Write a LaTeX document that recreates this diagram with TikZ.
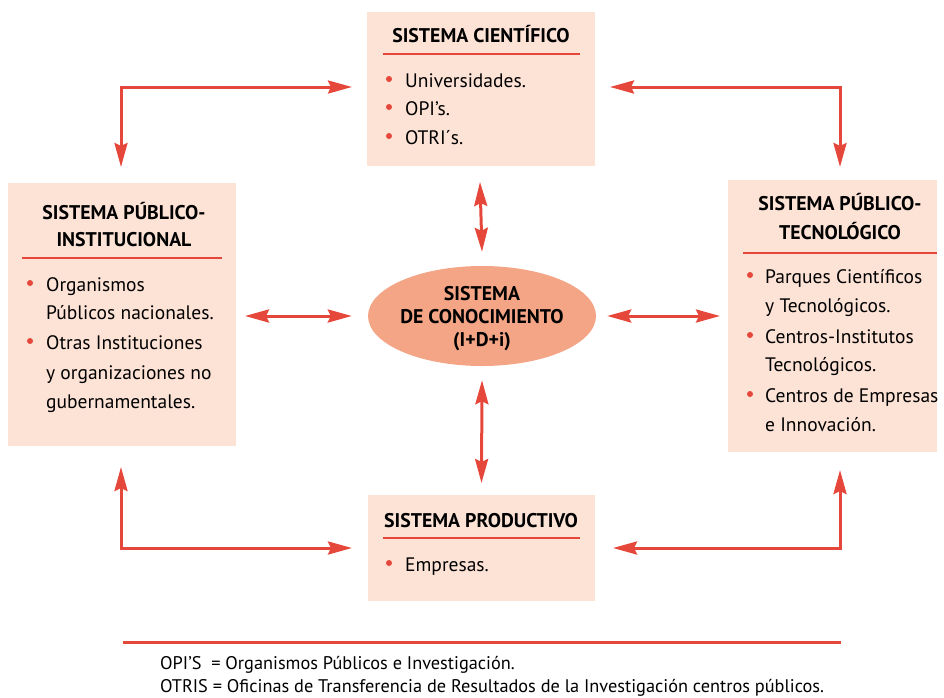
\documentclass[tikz,border=0pt]{standalone}
\usepackage{fontspec}
\setmainfont{PT Sans}
\usetikzlibrary{arrows.meta,shapes.geometric,calc}
\definecolor{boxfill}{HTML}{FDE2D6}
\definecolor{ellfill}{HTML}{F3A586}
\definecolor{redl}{HTML}{E5473A}
\begin{document}
\begin{tikzpicture}[x=1pt,y=-1pt,
  box/.style={fill=boxfill,draw=none,inner sep=0pt,outer sep=0pt},
  ttl/.style={font=\fontsize{19.8}{22}\selectfont\bfseries,inner sep=0pt,anchor=base},
  txt/.style={font=\fontsize{19.5}{22}\selectfont,inner sep=0pt,anchor=base west},
  foot/.style={font=\fontsize{18.3}{20}\selectfont,inner sep=0pt,anchor=base west},
  uline/.style={draw=redl,line width=2.5pt},
  bul/.style={circle,fill=redl,inner sep=0pt,minimum size=6pt},
  dbl/.style={draw=redl,line width=3pt,{Stealth[length=24pt,width=13pt,inset=3pt]}-{Stealth[length=24pt,width=13pt,inset=3pt]}},
]
\useasboundingbox (0,0) rectangle (944,697);
% boxes
\node[box,minimum width=228pt,minimum height=154pt] (cien) at (481,89) {};
\node[box,minimum width=228pt,minimum height=263pt] (inst) at (122,314.5) {};
\node[box,minimum width=209pt,minimum height=272pt] (tec) at (832.5,316) {};
\node[box,minimum width=227pt,minimum height=106pt] (prod) at (481.5,548) {};
\node[ellipse,fill=ellfill,inner sep=0pt,minimum width=228pt,minimum height=100pt] (ell) at (482,316) {};

% ellipse text
\node[ttl] (e1) at (482,300) {SISTEMA};
\node[ttl] (e2) at (482,323) {DE CONOCIMIENTO};
\node[ttl] (e3) at (482,346) {(I+D+i)};

% cientifico
\node[ttl] (ct) at (481,42) {SISTEMA CIENTÍFICO};
\draw[uline] (383,54) -- (580,54);
\node[bul] (cb1) at (389,79) {}; \node[txt] (c1) at (405,87) {Universidades.};
\node[bul] (cb2) at (389,107) {}; \node[txt] (c2) at (405,115) {OPI’s.};
\node[bul] (cb3) at (389,136) {}; \node[txt] (c3) at (405,144) {OTRI´s.};

% institucional
\node[ttl] (it1) at (124,219) {SISTEMA PÚBLICO-};
\node[ttl] (it2) at (124,246) {INSTITUCIONAL};
\draw[uline] (22,258) -- (222,258);
\node[bul] (ib1) at (30,283) {}; \node[txt] (i1) at (46,291) {Organismos};
\node[txt] (i2) at (46,319) {Públicos nacionales.};
\node[bul] (ib2) at (30,341) {}; \node[txt] (i3) at (46,349) {Otras Instituciones};
\node[txt] (i4) at (46,379) {y organizaciones no};
\node[txt] (i5) at (46,408) {gubernamentales.};

% tecnologico
\node[ttl] (tt1) at (840,210) {SISTEMA PÚBLICO-};
\node[ttl] (tt2) at (840,239) {TECNOLÓGICO};
\draw[uline] (743,253) -- (937,253);
\node[bul] (tb1) at (750,275) {}; \node[txt] (t1) at (765,283) {Parques Científicos};
\node[txt] (t2) at (765,312) {y Tecnológicos.};
\node[bul] (tb2) at (750,335) {}; \node[txt] (t3) at (765,343) {Centros-Institutos};
\node[txt] (t4) at (765,371) {Tecnológicos.};
\node[bul] (tb3) at (750,394) {}; \node[txt] (t5) at (765,402) {Centros de Empresas};
\node[txt] (t6) at (765,431) {e Innovación.};

% productivo
\node[ttl] (pt) at (481,527) {SISTEMA PRODUCTIVO};
\draw[uline] (383,538) -- (580,538);
\node[bul] (pb1) at (389,563) {}; \node[txt] (p1) at (405,571) {Empresas.};

% arrows
\draw[dbl] ([yshift=16pt,xshift=-1pt]inst.north) |- ([xshift=-15pt,yshift=2pt]cien.west);
\draw[dbl] ([xshift=15pt,yshift=2pt]cien.east) -| ([xshift=7.5pt,yshift=13pt]tec.north);
\draw[dbl] ([yshift=-21pt,xshift=-1pt]inst.south) |- ([xshift=-16pt]prod.west);
\draw[dbl] ([xshift=18pt]prod.east) -| ([xshift=7.5pt,yshift=-18pt]tec.south);
\draw[dbl] ([xshift=9pt]inst.east |- ell.west) -- ([xshift=-16pt]ell.west);
\draw[dbl] ([xshift=11pt]ell.east) -- ([xshift=-8pt]tec.west |- ell.east);
\draw[dbl] ([yshift=-16pt,xshift=-1pt]cien.south) -- ([yshift=14pt]ell.north);
\draw[dbl] ([yshift=-14pt]ell.south) -- ([yshift=12pt]prod.north);

% footer
\draw[draw=redl,line width=3pt] (123,642) -- (841,642);
\node[foot] (f1) at (160,669) {OPI’S \ = Organismos Públicos e Investigación.};
\node[foot] (f2) at (160,692) {OTRIS = Oficinas de Transferencia de Resultados de la Investigación centros públicos.};
\end{tikzpicture}
\end{document}
